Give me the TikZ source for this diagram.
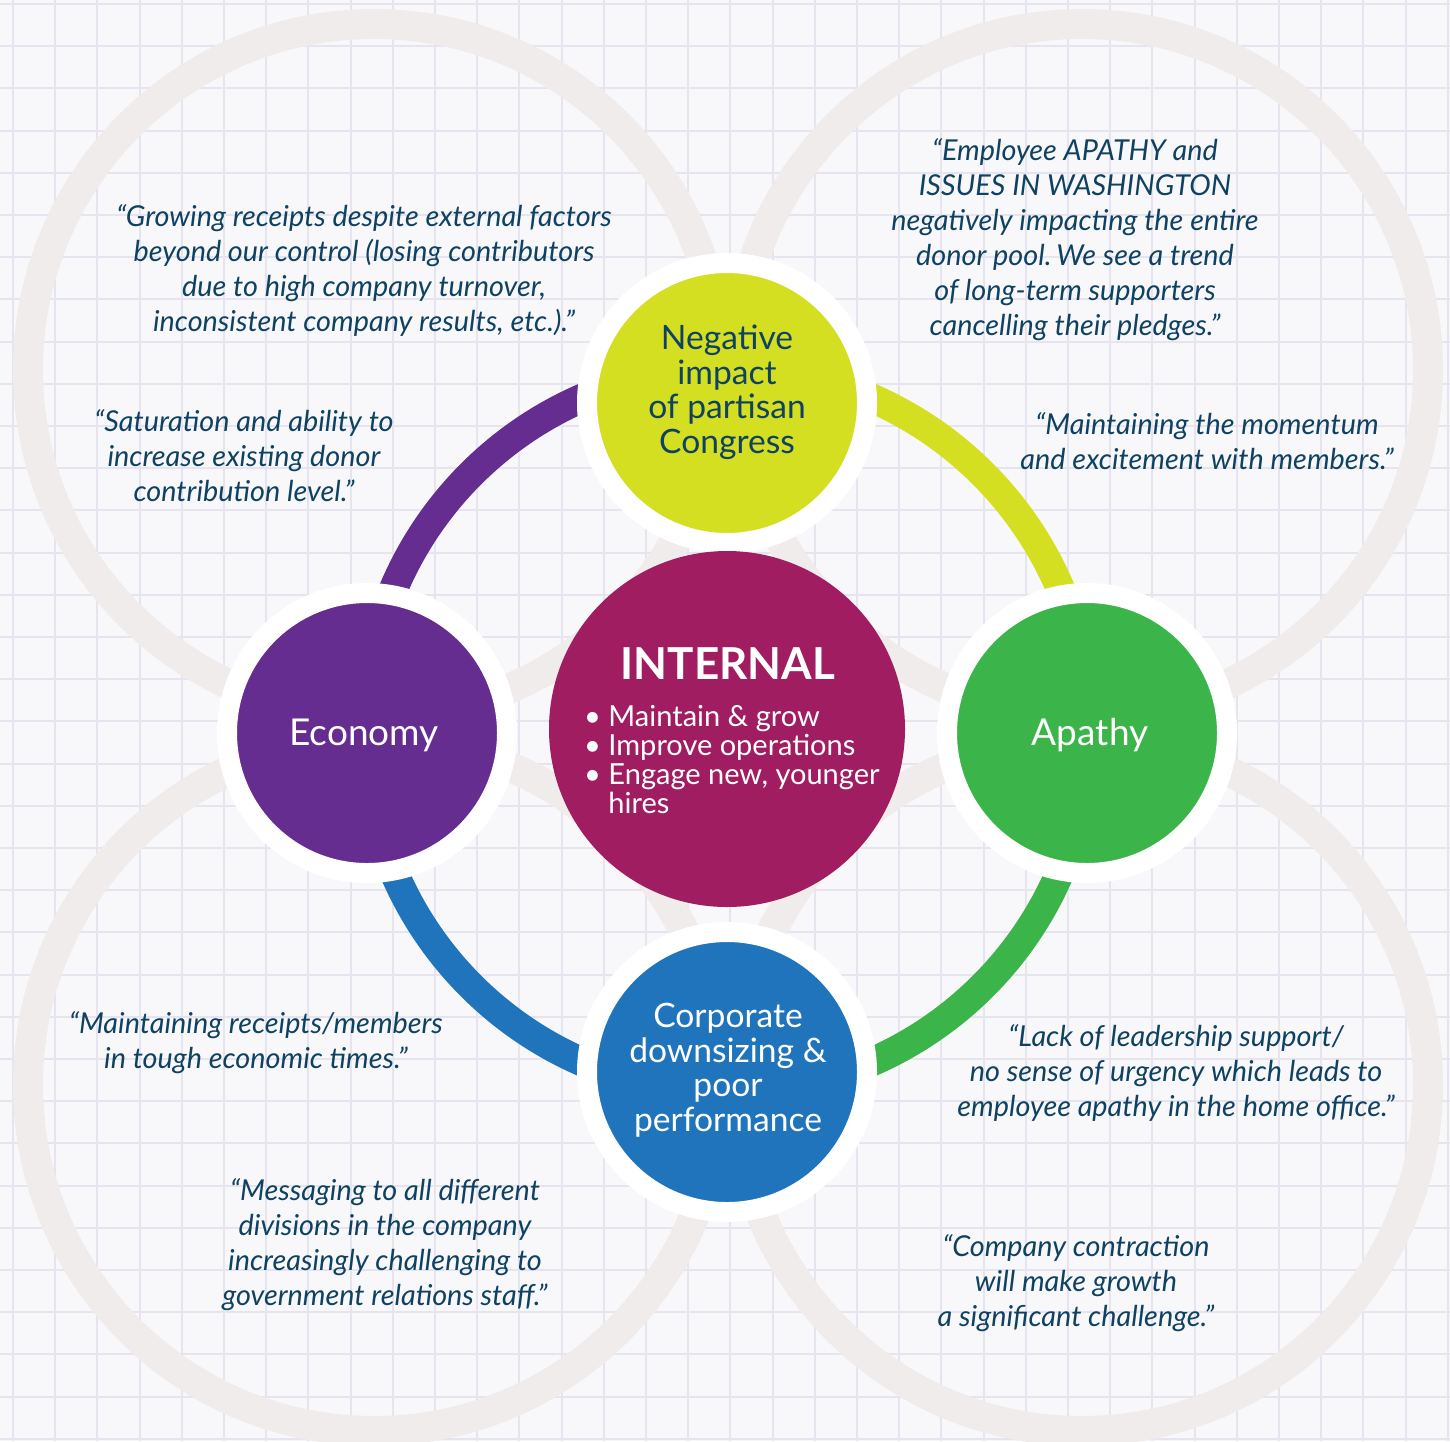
\documentclass[tikz,border=0pt]{standalone}
\usepackage{fontspec}
\setmainfont{Lato}
\frenchspacing
\definecolor{bgc}{HTML}{F8F8FA}
\definecolor{gridc}{HTML}{E5E4EF}
\definecolor{palec}{HTML}{EFECEB}
\definecolor{purp}{HTML}{662D91}
\definecolor{yelg}{HTML}{D5DF22}
\definecolor{grn}{HTML}{3BB54A}
\definecolor{blu}{HTML}{1F74BC}
\definecolor{mag}{HTML}{A01D62}
\definecolor{teal}{HTML}{0F4262}
\tikzset{
  gridline/.style={draw=gridc, line width=2pt},
  palering/.style={draw=palec, line width=30pt},
  ringarc/.style={line width=29pt},
  bubble/.style={circle, inner sep=0pt, minimum size=280pt, draw=white, line width=20pt},
  quote/.style={text=teal, align=center, font=\fontsize{28.8}{35}\selectfont\itshape, inner sep=0pt},
  nodelabel/.style={align=center, inner sep=0pt, font=\fontsize{33.6}{34.5}\selectfont},
  biglabel/.style={inner sep=0pt, text=white, font=\fontsize{37}{38}\selectfont},
}
\begin{document}
\begin{tikzpicture}[x=1pt,y=-1pt]
\useasboundingbox (0,0) rectangle (1450,1441);
\clip (0,0) rectangle (1450,1441);
\fill[bgc] (0,0) rectangle (1450,1441);
\foreach \i in {0,...,34} {
  \draw[gridline] ({13+42.2*\i},0) -- ({13+42.2*\i},1441);
  \draw[gridline] (0,{4+42.2*\i}) -- (1450,{4+42.2*\i});
}
% large pale circles
\draw[palering] (374,370) circle[radius=346];
\draw[palering] (1082,370) circle[radius=346];
\draw[palering] (374,1085) circle[radius=346];
\draw[palering] (1082,1085) circle[radius=346];
% coloured ring
\coordinate (C) at (727,730);
\draw[ringarc, purp] (C) ++(180:362) arc[start angle=180, end angle=270, radius=362];
\draw[ringarc, yelg] (C) ++(270:362) arc[start angle=270, end angle=360, radius=362];
\draw[ringarc, grn] (C) ++(0:362) arc[start angle=0, end angle=90, radius=362];
\draw[ringarc, blu] (C) ++(90:362) arc[start angle=90, end angle=180, radius=362];
% bubbles
\node[bubble, fill=yelg] (neg) at (727,403) {};
\node[bubble, fill=purp] (eco) at (367,733) {};
\node[bubble, fill=grn] (apa) at (1087,733) {};
\node[bubble, fill=blu] (cor) at (727,1072) {};
\node[circle, inner sep=0pt, minimum size=356pt, fill=mag] (int) at (727,729) {};
% bubble labels
\node[nodelabel, text=teal] (negl) at (727,392) {Negative\\impact\\of partisan\\Congress};
\node[biglabel] (ecol) at (364,735) {Economy};
\node[biglabel] (apal) at (1090,735) {Apathy};
\node[nodelabel, text=white] (corl) at (728,1070) {Corporate\\downsizing \&\\poor\\performance};
\node[text=white, inner sep=0pt, font=\fontsize{44}{46}\selectfont\bfseries] (intl) at (728,664) {INTERNAL};
\node[text=white, inner sep=0pt, anchor=west, align=left, font=\fontsize{29}{29}\selectfont] (intb) at (584,760)
  {\textbullet\ Maintain \& grow\\\textbullet\ Improve operations\\\textbullet\ Engage new, younger\\\phantom{\textbullet\ }hires};
% quotes
\node[quote] (q1) at (364,270) {“Growing receipts despite external factors\\beyond our control (losing contributors\\due to high company turnover,\\inconsistent company results, etc.).”};
\node[quote] (q2) at (244,456) {“Saturation and ability to\\increase existing donor\\contribution level.”};
\node[quote] (q3) at (1075,240) {“Employee APATHY and\\ISSUES IN WASHINGTON\\negatively impacting the entire\\donor pool.\,We see a trend\\of long-term supporters\\cancelling their pledges.”};
\node[quote] (q4) at (1207,441) {“Maintaining the momentum\\and excitement with members.”};
\node[quote] (q5) at (1176,1073) {“Lack of leadership support/\\no sense of urgency which leads to\\employee apathy in the home office.”};
\node[quote] (q6) at (1076,1283) {“Company contraction\\will make growth\\a significant challenge.”};
\node[quote] (q7) at (256,1043) {“Maintaining receipts/members\\in tough economic times.”};
\node[quote] (q8) at (385,1245) {“Messaging to all different\\divisions in the company\\increasingly challenging to\\government relations staff.”};
\end{tikzpicture}
\end{document}
